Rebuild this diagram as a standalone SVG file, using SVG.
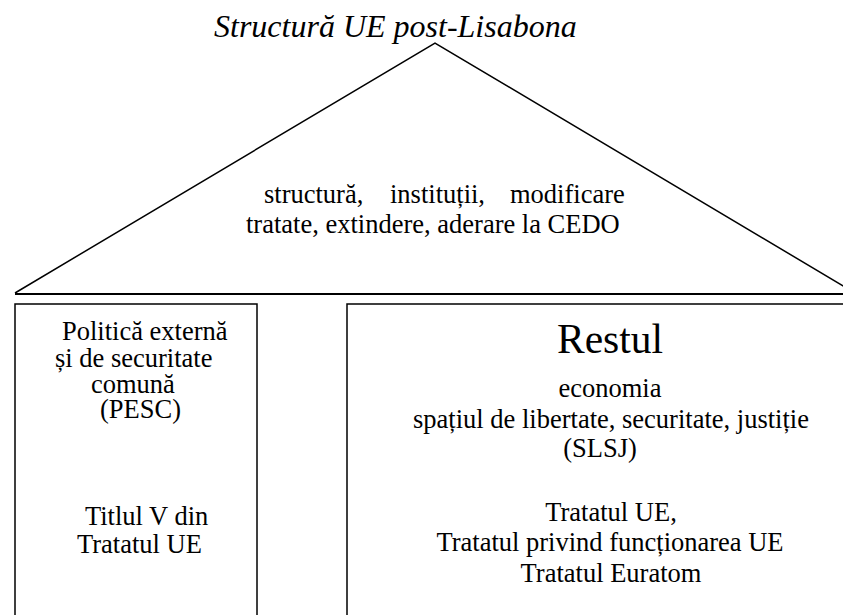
<svg xmlns="http://www.w3.org/2000/svg" width="843" height="615" viewBox="0 0 843 615">
<rect width="843" height="615" fill="#fff"/>
<g id="title" font-size="32" font-style="italic" fill="#000">
<text font-family="Liberation Serif" x="214" y="37">Structură UE post-Lisabona</text>
</g>
<g id="roof" font-size="26.5" fill="#000">
<polyline points="15,293 435,43 855,293" fill="none" stroke="#000" stroke-width="1.5"/>
<line x1="15" y1="294" x2="843" y2="294" stroke="#000" stroke-width="2"/>
<text font-family="Liberation Serif" y="203"><tspan x="264">structură,</tspan><tspan x="390">instituții,</tspan><tspan x="510">modificare</tspan></text>
<text font-family="Liberation Serif" x="246" y="233">tratate, extindere, aderare la CEDO</text>
</g>
<g id="pesc" font-size="26.5" fill="#000">
<rect x="15" y="304" width="242" height="330" fill="none" stroke="#000" stroke-width="1.5"/>
<text font-family="Liberation Serif" x="62" y="340">Politică externă</text>
<text font-family="Liberation Serif" x="55" y="367">și de securitate</text>
<text font-family="Liberation Serif" x="91" y="393">comună</text>
<text font-family="Liberation Serif" x="100" y="418">(PESC)</text>
<text font-family="Liberation Serif" x="85" y="525">Titlul V din</text>
<text font-family="Liberation Serif" x="77" y="553">Tratatul UE</text>
</g>
<g id="restul" font-size="26.5" fill="#000" text-anchor="middle">
<rect x="347" y="304" width="520" height="330" fill="none" stroke="#000" stroke-width="1.5"/>
<text font-family="Liberation Serif" x="610" y="353" font-size="41.5">Restul</text>
<text font-family="Liberation Serif" x="610" y="397">economia</text>
<text font-family="Liberation Serif" x="611" y="428">spațiul de libertate, securitate, justiție</text>
<text font-family="Liberation Serif" x="600" y="457">(SLSJ)</text>
<text font-family="Liberation Serif" x="611" y="521">Tratatul UE,</text>
<text font-family="Liberation Serif" x="610" y="551">Tratatul privind funcționarea UE</text>
<text font-family="Liberation Serif" x="611" y="582">Tratatul Euratom</text>
</g>
<g id="connectors"/>
</svg>
